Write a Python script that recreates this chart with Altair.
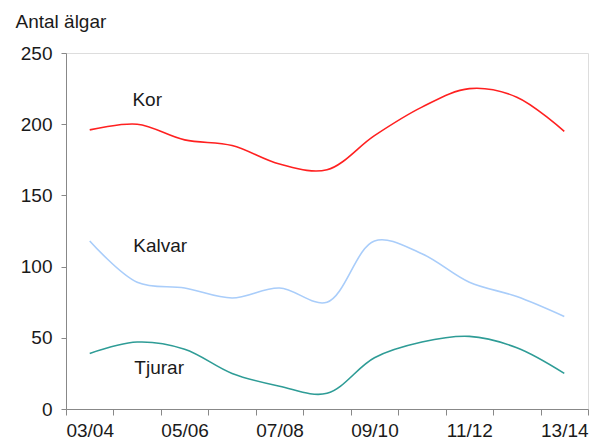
import altair as alt
import pandas as pd

seasons = ["03/04", "04/05", "05/06", "06/07", "07/08", "08/09",
           "09/10", "10/11", "11/12", "12/13", "13/14"]
kor = [196, 200, 189, 185, 172, 168, 192, 212, 225, 219, 195]
kalvar = [118, 89, 85, 78, 85, 75, 118, 109, 89, 79, 65]
tjurar = [39, 47, 42, 25, 16, 11, 36, 47, 51, 43, 25]
series_names = ["Kor", "Kalvar", "Tjurar"]
series_colors = ["#FF2020", "#A9CDFA", "#2E9C96"]
shown_labels = ["03/04", "05/06", "07/08", "09/10", "11/12", "13/14"]
y_ticks = [0, 50, 100, 150, 200, 250]

# series label annotations
label_season = ["04/05", "04/05", "04/05"]
label_value = [217, 114.5, 29]
label_dx = [10, 23, 22]

rows = []
for name, vals in zip(series_names, [kor, kalvar, tjurar]):
    for s, v in zip(seasons, vals):
        rows.append({"season": s, "value": v, "series": name})
df = pd.DataFrame(rows)

label_expr = "indexof(" + str(shown_labels) + ", datum.value) >= 0 ? datum.value : ''"

x_enc = alt.X(
    "season:N", sort=seasons,
    scale=alt.Scale(type="band", domain=seasons, paddingInner=0, paddingOuter=0),
    axis=alt.Axis(title=None, labelAngle=0, labelExpr=label_expr, labelOverlap=False,
                  tickBand="extent", tickSize=6, labelPadding=6,
                  labelFontSize=19, labelColor="#1a1a1a", labelFont="Liberation Sans",
                  domainColor="#888888", tickColor="#888888", grid=False),
)
y_scale = alt.Scale(domain=[0, 250], nice=False)

lines = alt.Chart(df).mark_line(
    strokeWidth=1.6, interpolate="catmull-rom"
).encode(
    x=x_enc,
    y=alt.Y("value:Q", scale=y_scale,
            axis=alt.Axis(values=y_ticks, title="Antal älgar", titleAngle=0,
                          titleAlign="left", titleBaseline="alphabetic",
                          titleX=-51, titleY=-26, titleFontSize=19,
                          titleFontWeight="normal", titleColor="#1a1a1a",
                          titleFont="Liberation Sans",
                          labelFontSize=19, labelColor="#1a1a1a",
                          labelFont="Liberation Sans", labelPadding=9,
                          tickSize=5, domainColor="#888888", tickColor="#888888",
                          grid=False)),
    color=alt.Color("series:N", scale=alt.Scale(domain=series_names, range=series_colors),
                    legend=None),
    detail="series:N",
)

layers = [lines]
for name, s, v, dx in zip(series_names, label_season, label_value, label_dx):
    ldf = pd.DataFrame({"season": [s], "value": [v], "label": [name]})
    t = alt.Chart(ldf).mark_text(
        fontSize=19, font="Liberation Sans", color="#1a1a1a", dx=dx,
        align="center", baseline="middle"
    ).encode(
        x=alt.X("season:N", sort=seasons),
        y=alt.Y("value:Q", scale=y_scale),
        text="label:N",
    )
    layers.append(t)

chart = alt.layer(*layers).properties(
    width=522, height=356,
    autosize=alt.AutoSizeParams(type="none"),
    padding={"left": 58, "top": 45, "right": 4, "bottom": 31},
).configure_view(stroke=None).configure(background="white")

chart.save("out.html", embed_options={"renderer": "svg", "actions": False})
